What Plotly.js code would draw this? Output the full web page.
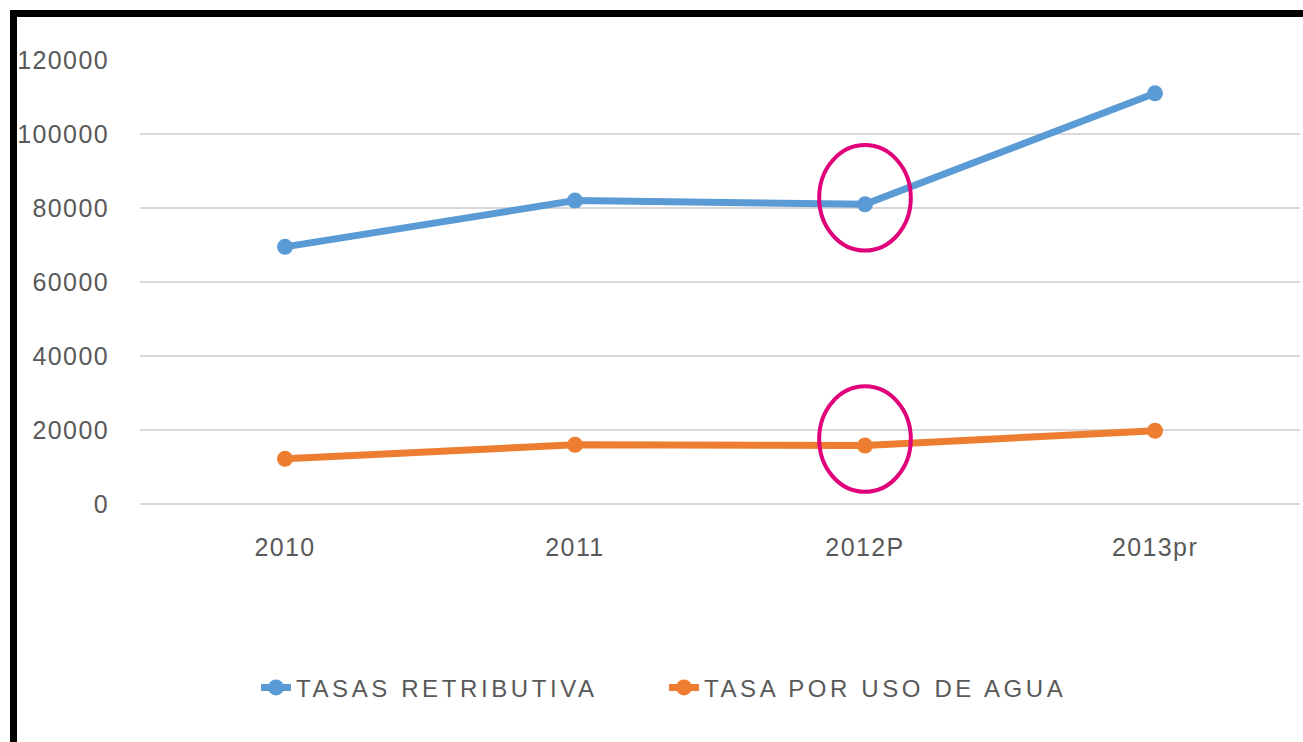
<!DOCTYPE html>
<html>
<head>
<meta charset="utf-8">
<script src="https://cdn.plot.ly/plotly-3.0.1.min.js"></script>
<style>
  html, body { margin: 0; padding: 0; background: #fff; }
  #wrap { position: relative; width: 1303px; height: 742px; overflow: hidden; }
  #chart { position: absolute; left: 0; top: 0; width: 1303px; height: 742px; }
  .bt { position: absolute; left: 10px; top: 10px; width: 1293px; height: 7px; background: #000; z-index: 5; }
  .bl { position: absolute; left: 10px; top: 10px; width: 7px; height: 732px; background: #000; z-index: 5; }
  .legendtext { letter-spacing: 3.6px; }
  .xtick text, .ytick text { letter-spacing: 1.4px; }
</style>
</head>
<body>
<div id="wrap">
  <div id="chart"></div>
  <div class="bt"></div>
  <div class="bl"></div>
</div>
<script>
const categories = ["2010", "2011", "2012P", "2013pr"];
const tasasRetributiva = [69500, 82000, 81000, 111000];
const tasaUsoAgua = [12200, 16000, 15800, 19800];
const seriesNames = ["TASAS RETRIBUTIVA", "TASA POR USO DE AGUA"];
const yTicks = [0, 20000, 40000, 60000, 80000, 100000, 120000];
const highlightIndex = 2;

const font = "'Liberation Sans', Arial, sans-serif";

const traces = [
  {
    x: categories, y: tasasRetributiva, name: seriesNames[0],
    type: "scatter", mode: "lines+markers",
    line: { color: "#5B9BD5", width: 7 },
    marker: { color: "#5B9BD5", size: 16 }
  },
  {
    x: categories, y: tasaUsoAgua, name: seriesNames[1],
    type: "scatter", mode: "lines+markers",
    line: { color: "#ED7D31", width: 7 },
    marker: { color: "#ED7D31", size: 16 }
  }
];

function ring(val) {
  return {
    type: "circle", xref: "x", yref: "y",
    x0: highlightIndex - 0.158, x1: highlightIndex + 0.158,
    y0: val - 12500, y1: val + 16000,
    line: { color: "#E0007A", width: 4 }
  };
}

const layout = {
  width: 1303, height: 742,
  paper_bgcolor: "#fff", plot_bgcolor: "#fff",
  margin: { l: 140, r: 3, t: 60, b: 238 },
  font: { family: font, color: "#595959", size: 24 },
  showlegend: true,
  legend: {
    orientation: "h", x: 0.1, xanchor: "left", y: -0.414, yanchor: "middle",
    font: { family: font, size: 24, color: "#595959" },
    itemwidth: 30, tracegroupgap: 0,
    entrywidth: 363, entrywidthmode: "pixels"
  },
  xaxis: {
    type: "category", range: [-0.5, 3.5],
    showgrid: false, zeroline: false, showline: false,
    ticks: "", tickfont: { family: font, size: 25, color: "#595959" },
    ticklabelstandoff: 26
  },
  yaxis: {
    range: [0, 120000], tickvals: yTicks, ticktext: yTicks.map(String),
    showgrid: true, gridcolor: "#d9d9d9", gridwidth: 1.5,
    zeroline: true, zerolinecolor: "#d9d9d9", zerolinewidth: 1.5,
    showline: false, ticks: "",
    tickfont: { family: font, size: 25, color: "#595959" },
    ticklabelstandoff: 30
  },
  shapes: [ring(tasasRetributiva[highlightIndex]), ring(tasaUsoAgua[highlightIndex])]
};

Plotly.newPlot("chart", traces, layout, { displayModeBar: false, staticPlot: true });
</script>
</body>
</html>
